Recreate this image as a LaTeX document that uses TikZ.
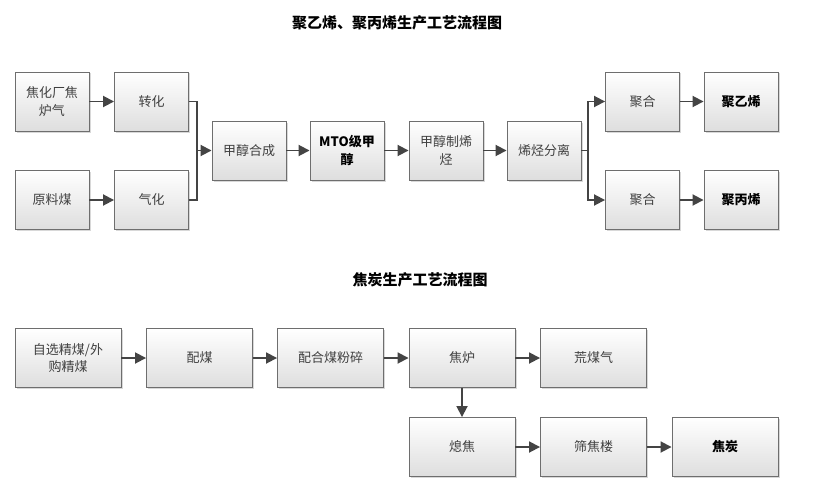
\documentclass[tikz,border=0pt]{standalone}
\usepackage{fontspec}
\setmainfont{Noto Sans CJK SC}
\usetikzlibrary{arrows.meta,shadows}
\definecolor{txtgray}{HTML}{404040}
\definecolor{linegray}{HTML}{444444}
\definecolor{bordergray}{HTML}{6E6E6E}
\tikzset{
  box/.style={draw=bordergray, line width=0.9pt, top color=white, bottom color=black!13,
    minimum height=59pt, inner sep=1pt, align=center, text=txtgray,
    font=\fontsize{13}{17.5}\selectfont,
    drop shadow={shadow xshift=1.5pt, shadow yshift=-1.5pt, fill=black!25, opacity=0.6}},
  sbox/.style={box, minimum width=74pt},
  wbox/.style={box, minimum width=106pt},
  boldtxt/.style={text=black, font=\fontsize{13}{17.5}\selectfont\bfseries},
  flow/.style={draw=linegray, line width=1.8pt, -{Triangle[length=11pt,width=11pt]}},
  link/.style={draw=linegray, line width=1.8pt},
  titletxt/.style={font=\fontsize{15}{18}\selectfont\bfseries, text=black}
}
\begin{document}
\begin{tikzpicture}[x=1pt,y=-1pt]
\useasboundingbox (0,0) rectangle (830,487);
\fill[white] (0,0) rectangle (830,487);
% titles
\node[titletxt] (t1) at (397,23) {聚乙烯、聚丙烯生产工艺流程图};
\node[titletxt] (t2) at (420,280) {焦炭生产工艺流程图};
% top section
\node[sbox] (a1) at (52,101.5) {焦化厂焦\\炉气};
\node[sbox] (a2) at (151.5,101.5) {转化};
\node[sbox] (b1) at (52,200) {原料煤};
\node[sbox] (b2) at (151.5,200) {气化};
\node[sbox] (c1) at (249,150.5) {甲醇合成};
\node[sbox, boldtxt, text=black] (c2) at (347,150.5) {MTO级甲\\醇};
\node[sbox] (c3) at (446,150.5) {甲醇制烯\\烃};
\node[sbox] (c4) at (544,150.5) {烯烃分离};
\node[sbox] (d1) at (642.5,101.5) {聚合};
\node[sbox, boldtxt] (d2) at (741,101.5) {聚乙烯};
\node[sbox] (e1) at (642.5,200) {聚合};
\node[sbox, boldtxt] (e2) at (741,200) {聚丙烯};
\coordinate (j1) at (197,150.5);
\coordinate (j2) at (588,150.5);
\draw[flow] (a1) -- (a2);
\draw[flow] (b1) -- (b2);
\draw[link] (a2.east) -| (j1);
\draw[link] (b2.east) -| (j1);
\draw[flow] (j1) -- (c1);
\draw[flow] (c1) -- (c2);
\draw[flow] (c2) -- (c3);
\draw[flow] (c3) -- (c4);
\draw[link] (c4.east) -- (j2);
\draw[flow] (j2) |- (d1.west);
\draw[flow] (j2) |- (e1.west);
\draw[flow] (d1) -- (d2);
\draw[flow] (e1) -- (e2);
% bottom section
\node[wbox] (f1) at (68,358) {自选精煤/外\\购精煤};
\node[wbox] (f2) at (199.5,358) {配煤};
\node[wbox] (f3) at (330.5,358) {配合煤粉碎};
\node[wbox] (f4) at (462,358) {焦炉};
\node[wbox] (f5) at (593.5,358) {荒煤气};
\node[wbox] (g1) at (462,447) {熄焦};
\node[wbox] (g2) at (593.5,447) {筛焦楼};
\node[wbox, boldtxt] (g3) at (725,447) {焦炭};
\draw[flow] (f1) -- (f2);
\draw[flow] (f2) -- (f3);
\draw[flow] (f3) -- (f4);
\draw[flow] (f4) -- (f5);
\draw[flow] (f4) -- (g1);
\draw[flow] (g1) -- (g2);
\draw[flow] (g2) -- (g3);
\end{tikzpicture}
\end{document}
